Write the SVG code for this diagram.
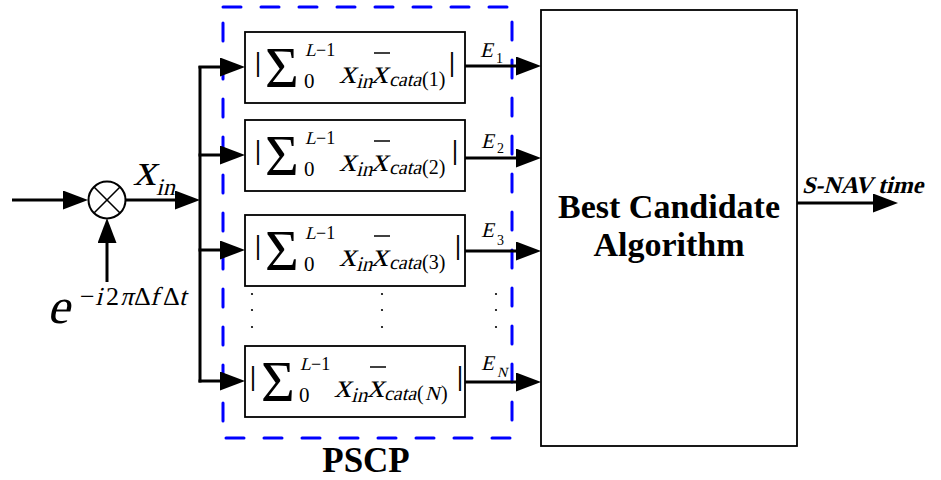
<svg xmlns="http://www.w3.org/2000/svg" width="941" height="480" viewBox="0 0 941 480">
  <style>
    .t { font-family: "Liberation Serif", "Times New Roman", serif; fill: #000; }
    .bd { font-weight: bold; }
    .box { fill: #fff; stroke: #000; stroke-width: 1.8; }
    .wire { fill: none; stroke: #000; stroke-width: 3; }
    .bar { stroke: #000; stroke-width: 1.5; }
    .abs { font-weight: bold; }
    .dot { fill: #000; }
  </style>
  <defs>
    <marker id="arrow" viewBox="0 0 25 19" refX="13" refY="9.5" markerWidth="25" markerHeight="19" markerUnits="userSpaceOnUse" orient="auto">
      <path d="M0,0 L25,9.5 L0,19 z" fill="#000"/>
    </marker>
  </defs>

  <rect width="941" height="480" fill="#fff"/>

  <!-- PSCP dashed frame -->
  <g id="pscp">
    <rect x="223" y="7" width="289" height="431" fill="none" stroke="#0000ff" stroke-width="3" stroke-dasharray="18 20" stroke-linecap="round"/>
    <text class="t bd" x="366" y="472" font-size="35" text-anchor="middle">PSCP</text>
  </g>

  <!-- mixer -->
  <g id="mixer">
    <circle cx="107" cy="200" r="18.5" fill="#fff" stroke="#000" stroke-width="2"/>
    <line x1="94" y1="187" x2="120" y2="213" stroke="#000" stroke-width="1.6"/>
    <line x1="120" y1="187" x2="94" y2="213" stroke="#000" stroke-width="1.6"/>
  </g>

  <!-- mixer labels (slanted = math italic) -->
  <g id="xin-label">
    <text class="t" transform="translate(133,185) skewX(-14)" font-size="46">x</text>
    <text class="t" transform="translate(156,195) skewX(-14)" font-size="24">in</text>
  </g>
  <g id="carrier-label">
    <text class="t" transform="translate(47,323) skewX(-14)" font-size="50">e</text>
    <text class="t" x="80" y="305" font-size="26">−</text>
    <text class="t" transform="translate(95,305) skewX(-14)" font-size="26">i</text>
    <text class="t" x="106" y="305" font-size="26">2</text>
    <text class="t" transform="translate(120,305) skewX(-14)" font-size="26">π</text>
    <text class="t" x="134" y="305" font-size="26">Δ</text>
    <text class="t" transform="translate(150,305) skewX(-14)" font-size="26">f</text>
    <text class="t" x="163" y="305" font-size="26">Δ</text>
    <text class="t" transform="translate(179,305) skewX(-14)" font-size="26">t</text>
  </g>

  <!-- correlator branches -->
  <g id="corr1" transform="translate(0,32)">
    <rect class="box" x="245" y="0" width="220" height="71"/>
    <text class="t abs" x="255" y="39" font-size="27">|</text>
    <text class="t" x="265" y="55" font-size="58">Σ</text>
    <text class="t" transform="translate(305,24) skewX(-14)" font-size="18">L</text>
    <text class="t" x="316" y="24" font-size="18">−1</text>
    <text class="t" x="304" y="56" font-size="21">0</text>
    <text class="t" transform="translate(339,51) skewX(-14)" font-size="34">x</text>
    <text class="t" transform="translate(356,56) skewX(-14)" font-size="21">in</text>
    <text class="t" transform="translate(371,51) skewX(-14)" font-size="34">x</text>
    <line class="bar" x1="374" y1="21" x2="390" y2="21"/>
    <text class="t" transform="translate(389,54) skewX(-14)" font-size="20">cata</text>
    <text class="t" x="422" y="54" font-size="20">(1)</text>
    <text class="t abs" x="449" y="39" font-size="27">|</text>
  </g>
  <g id="corr2" transform="translate(0,120)">
    <rect class="box" x="245" y="0" width="220" height="71"/>
    <text class="t abs" x="255" y="39" font-size="27">|</text>
    <text class="t" x="265" y="55" font-size="58">Σ</text>
    <text class="t" transform="translate(305,24) skewX(-14)" font-size="18">L</text>
    <text class="t" x="316" y="24" font-size="18">−1</text>
    <text class="t" x="304" y="56" font-size="21">0</text>
    <text class="t" transform="translate(339,51) skewX(-14)" font-size="34">x</text>
    <text class="t" transform="translate(356,56) skewX(-14)" font-size="21">in</text>
    <text class="t" transform="translate(371,51) skewX(-14)" font-size="34">x</text>
    <line class="bar" x1="374" y1="21" x2="390" y2="21"/>
    <text class="t" transform="translate(389,54) skewX(-14)" font-size="20">cata</text>
    <text class="t" x="422" y="54" font-size="20">(2)</text>
    <text class="t abs" x="452" y="39" font-size="27">|</text>
  </g>
  <g id="corr3" transform="translate(0,215)">
    <rect class="box" x="245" y="0" width="220" height="71"/>
    <text class="t abs" x="255" y="39" font-size="27">|</text>
    <text class="t" x="265" y="55" font-size="58">Σ</text>
    <text class="t" transform="translate(305,24) skewX(-14)" font-size="18">L</text>
    <text class="t" x="316" y="24" font-size="18">−1</text>
    <text class="t" x="304" y="56" font-size="21">0</text>
    <text class="t" transform="translate(339,51) skewX(-14)" font-size="34">x</text>
    <text class="t" transform="translate(356,56) skewX(-14)" font-size="21">in</text>
    <text class="t" transform="translate(371,51) skewX(-14)" font-size="34">x</text>
    <line class="bar" x1="374" y1="21" x2="390" y2="21"/>
    <text class="t" transform="translate(389,54) skewX(-14)" font-size="20">cata</text>
    <text class="t" x="422" y="54" font-size="20">(3)</text>
    <text class="t abs" x="455" y="39" font-size="27">|</text>
  </g>
  <g id="corrN" transform="translate(0,346)">
    <rect class="box" x="245" y="0" width="220" height="71"/>
    <text class="t abs" x="250" y="39" font-size="27">|</text>
    <text class="t" x="261" y="55" font-size="58">Σ</text>
    <text class="t" transform="translate(300,24) skewX(-14)" font-size="18">L</text>
    <text class="t" x="311" y="24" font-size="18">−1</text>
    <text class="t" x="299" y="56" font-size="21">0</text>
    <text class="t" transform="translate(334,51) skewX(-14)" font-size="34">x</text>
    <text class="t" transform="translate(351,56) skewX(-14)" font-size="21">in</text>
    <text class="t" transform="translate(367,51) skewX(-14)" font-size="34">x</text>
    <line class="bar" x1="370" y1="21" x2="386" y2="21"/>
    <text class="t" transform="translate(384,54) skewX(-14)" font-size="20">cata</text>
    <text class="t" x="417" y="54" font-size="20">(</text>
    <text class="t" transform="translate(425,54) skewX(-14)" font-size="20">N</text>
    <text class="t" x="441" y="54" font-size="20">)</text>
    <text class="t abs" x="457" y="39" font-size="27">|</text>
  </g>

  <!-- ellipsis between branches -->
  <g id="ellipsis">
    <circle class="dot" cx="252" cy="294" r="1.1"/>
    <circle class="dot" cx="252" cy="310" r="1.1"/>
    <circle class="dot" cx="252" cy="327" r="1.1"/>
    <circle class="dot" cx="382" cy="294" r="1.1"/>
    <circle class="dot" cx="382" cy="310" r="1.1"/>
    <circle class="dot" cx="382" cy="327" r="1.1"/>
    <circle class="dot" cx="496" cy="294" r="1.1"/>
    <circle class="dot" cx="496" cy="310" r="1.1"/>
    <circle class="dot" cx="496" cy="327" r="1.1"/>
  </g>

  <!-- selection block -->
  <g id="best">
    <rect class="box" x="541" y="10" width="256" height="436" stroke-width="1.6"/>
    <text class="t bd" x="669" y="218" font-size="34" text-anchor="middle">Best Candidate</text>
    <text class="t bd" x="669" y="256" font-size="34" text-anchor="middle">Algorithm</text>
  </g>

  <!-- output labels -->
  <g id="energy-labels">
    <text class="t" transform="translate(480,57) skewX(-14)" font-size="21">E</text>
    <text class="t" x="496" y="63" font-size="14">1</text>
    <text class="t" transform="translate(481,148) skewX(-14)" font-size="21">E</text>
    <text class="t" x="497" y="153" font-size="14">2</text>
    <text class="t" transform="translate(481,237) skewX(-14)" font-size="21">E</text>
    <text class="t" x="497" y="245" font-size="14">3</text>
    <text class="t" transform="translate(481,370) skewX(-14)" font-size="21">E</text>
    <text class="t" transform="translate(497,377) skewX(-14)" font-size="14">N</text>
  </g>
  <g id="out-label">
    <text class="t bd" transform="translate(802,193) skewX(-14)" font-size="24">S-NAV time</text>
  </g>

  <!-- connectors -->
  <g id="connectors" class="wire">
    <line x1="12" y1="200" x2="76" y2="200" marker-end="url(#arrow)"/>
    <line x1="107" y1="282" x2="107" y2="230" marker-end="url(#arrow)"/>
    <line x1="126" y1="200" x2="188" y2="200" marker-end="url(#arrow)"/>
    <line x1="200" y1="66" x2="200" y2="382.5"/>
    <line x1="198.5" y1="67" x2="233" y2="67" marker-end="url(#arrow)"/>
    <line x1="198.5" y1="155" x2="233" y2="155" marker-end="url(#arrow)"/>
    <line x1="198.5" y1="250" x2="233" y2="250" marker-end="url(#arrow)"/>
    <line x1="198.5" y1="381" x2="233" y2="381" marker-end="url(#arrow)"/>
    <line x1="465" y1="66" x2="529" y2="66" marker-end="url(#arrow)"/>
    <line x1="465" y1="158" x2="529" y2="158" marker-end="url(#arrow)"/>
    <line x1="465" y1="251" x2="529" y2="251" marker-end="url(#arrow)"/>
    <line x1="465" y1="382" x2="529" y2="382" marker-end="url(#arrow)"/>
    <line x1="797" y1="203" x2="886" y2="203" marker-end="url(#arrow)"/>
  </g>
</svg>
